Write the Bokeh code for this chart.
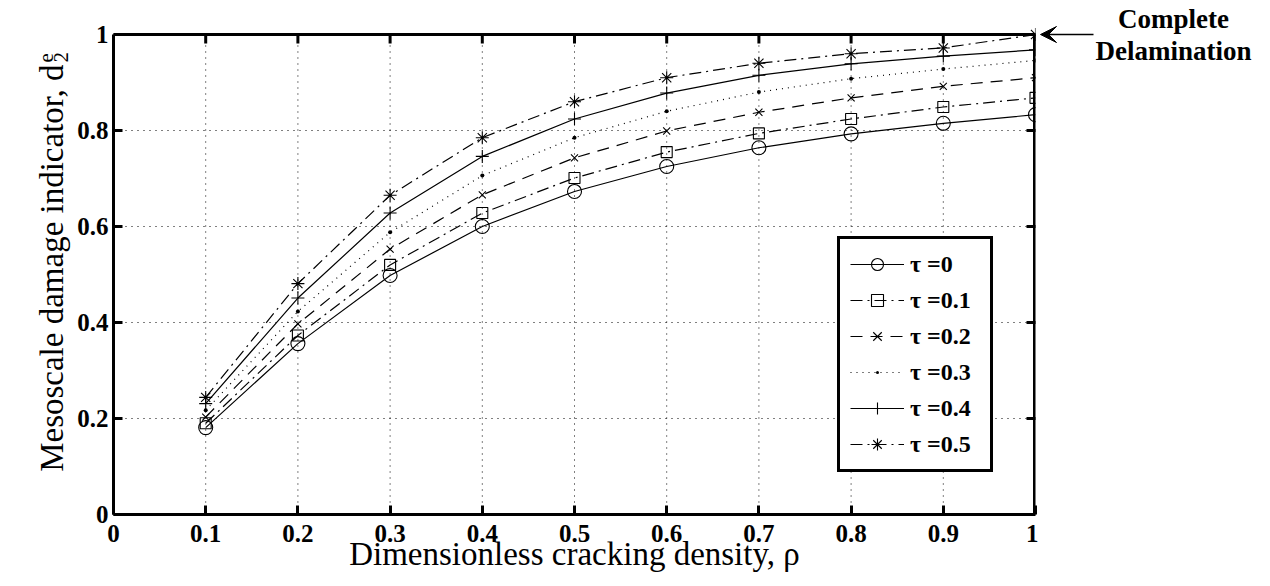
from bokeh.plotting import figure
from bokeh.layouts import row
from bokeh.models import (Range1d, FixedTicker, Legend, LegendItem,
                          Label, Arrow, VeeHead)
from bokeh.embed import file_html
from bokeh.resources import INLINE
import math

rho = [0.1, 0.2, 0.3, 0.4, 0.5, 0.6, 0.7, 0.8, 0.9, 1.0]
tau_labels = ["τ =0", "τ =0.1", "τ =0.2", "τ =0.3", "τ =0.4", "τ =0.5"]
d_tau0 = [0.181, 0.356, 0.498, 0.600, 0.673, 0.725, 0.764, 0.793, 0.815, 0.833]
d_tau1 = [0.190, 0.373, 0.520, 0.628, 0.701, 0.755, 0.794, 0.824, 0.849, 0.868]
d_tau2 = [0.203, 0.397, 0.553, 0.666, 0.743, 0.799, 0.838, 0.868, 0.892, 0.910]
d_tau3 = [0.217, 0.423, 0.588, 0.706, 0.785, 0.840, 0.880, 0.908, 0.928, 0.946]
d_tau4 = [0.231, 0.451, 0.628, 0.746, 0.824, 0.878, 0.915, 0.939, 0.955, 0.968]
d_tau5 = [0.244, 0.481, 0.665, 0.785, 0.860, 0.910, 0.940, 0.960, 0.972, 1.000]
x_ticks = [0, 0.1, 0.2, 0.3, 0.4, 0.5, 0.6, 0.7, 0.8, 0.9, 1.0]
x_tick_labels = ["0", "0.1", "0.2", "0.3", "0.4", "0.5", "0.6", "0.7", "0.8", "0.9", "1"]
y_ticks = [0, 0.2, 0.4, 0.6, 0.8, 1.0]
y_tick_labels = ["0", "0.2", "0.4", "0.6", "0.8", "1"]
x_title = "Dimensionless cracking density, ρ"
y_title = "Mesoscale damage indicator, d"
y_title_sup = "e"
y_title_sub = "2"
note_lines = ["Complete", "Delamination"]

SERIF = "Liberation Serif"
W0 = 74          # left strip holding the y title
H = 578          # common canvas height
BOX_TOP = 34     # pixel row of y = 1
BOX_BOTTOM = 514 # pixel row of y = 0
PX = 1.0 / (BOX_BOTTOM - BOX_TOP)   # one pixel in y data units

def hide_title(f):
    if f.title is not None:
        f.title.text = ""
        f.title.visible = False
        f.title.standoff = 0

# ---------------- main plot (frame reaches the canvas top, box is 0..1) ----------------
W1 = (113 - W0) + 922 + 3
y_lo, y_hi = y_ticks[0], y_ticks[-1]
x_lo, x_hi = x_ticks[0], x_ticks[-1]
p = figure(width=W1, height=H, output_backend="svg", toolbar_location=None,
           x_range=Range1d(x_lo, x_hi),
           y_range=Range1d(y_lo, y_hi + BOX_TOP * PX), align="start",
           min_border_left=113 - W0, min_border_right=3, min_border_top=0,
           min_border_bottom=H - BOX_BOTTOM)
hide_title(p)
p.outline_line_color = None
p.background_fill_color = "white"

def style_axis(ax, ticks, labels):
    ax.ticker = FixedTicker(ticks=ticks)
    ax.major_label_overrides = {t: l for t, l in zip(ticks, labels)}
    ax.axis_line_width = 3
    ax.axis_line_color = "black"
    ax.major_tick_line_width = 3
    ax.major_tick_in = 9
    ax.major_tick_out = 0
    ax.minor_tick_line_color = None
    ax.major_label_text_font = SERIF
    ax.major_label_text_font_style = "bold"
    ax.major_label_text_font_size = "25px"
    ax.major_label_text_color = "black"

style_axis(p.xaxis[0], x_ticks, x_tick_labels)
style_axis(p.yaxis[0], y_ticks, y_tick_labels)
p.yaxis[0].bounds = (y_lo, y_hi)
p.xaxis[0].major_label_standoff = 10
p.yaxis[0].major_label_standoff = 5
p.xaxis[0].axis_label = x_title
p.xaxis[0].axis_label_text_font = SERIF
p.xaxis[0].axis_label_text_font_style = "normal"
p.xaxis[0].axis_label_text_font_size = "33px"
p.xaxis[0].axis_label_text_color = "black"
p.xaxis[0].axis_label_standoff = -9

# grid: horizontal lines from the grid, vertical ones limited to the box
p.xgrid.visible = False
p.ygrid.ticker = FixedTicker(ticks=y_ticks)
p.ygrid.grid_line_color = "black"
p.ygrid.grid_line_dash = "1 5"
p.ygrid.grid_line_width = 1
p.ygrid.grid_line_alpha = 1.0
inner_x = x_ticks[1:-1]
p.segment(x0=inner_x, y0=[y_lo] * len(inner_x), x1=inner_x, y1=[y_hi] * len(inner_x),
          line_color="black", line_dash="1 5", line_width=1)

# top and right edges of the box with inward ticks
p.line([x_lo, x_hi], [y_hi, y_hi], line_color="black", line_width=3)
p.line([x_hi, x_hi], [y_lo, y_hi], line_color="black", line_width=5)
p.segment(x0=x_ticks, y0=[y_hi] * len(x_ticks), x1=x_ticks, y1=[y_hi - 9 * PX] * len(x_ticks),
          line_color="black", line_width=3)
p.scatter([x_hi] * len(y_ticks), y_ticks, marker="dash",
          size=18, line_color="black", line_width=3)

series = [d_tau0, d_tau1, d_tau2, d_tau3, d_tau4, d_tau5]
dashes = ["solid", "12 5 2 5", "12 8", "1 5", "solid", "12 5 2 5"]
markers = ["circle", "square", "x", "dot", "cross", "asterisk"]
sizes = [14, 11, 10, 16, 13, 13]
fills = [None, None, None, "black", None, None]

items = []
for vals, dash, mk, sz, fc, lab in zip(series, dashes, markers, sizes, fills, tau_labels):
    ln = p.line(rho, vals, line_color="black", line_width=1.2, line_dash=dash)
    sc = p.scatter(rho, vals, marker=mk, size=sz, line_color="black", fill_color=fc, line_width=1.1)
    items.append(LegendItem(label=lab, renderers=[ln, sc]))

legend = Legend(items=items, location=(724, 42))
legend.border_line_color = "black"
legend.border_line_width = 3
legend.border_line_alpha = 1.0
legend.background_fill_color = "white"
legend.background_fill_alpha = 1.0
legend.label_text_font = SERIF
legend.label_text_font_style = "bold"
legend.label_text_font_size = "24px"
legend.label_text_color = "black"
legend.glyph_width = 54
legend.glyph_height = 30
legend.label_height = 30
legend.label_width = 70
legend.label_standoff = 6
legend.padding = 10
legend.spacing = 6
legend.margin = 0
p.add_layout(legend, "center")

# ---------------- helper strips (pixel coordinates, y downwards) ----------------
# their frames are aligned with the main frame (canvas rows 0..514)
def blank(width, height, x0, x1):
    f = figure(width=width, height=height, output_backend="svg", toolbar_location=None,
               x_range=Range1d(x0, x1), y_range=Range1d(BOX_BOTTOM, 0),
               align="start", min_border=0, min_border_left=0, min_border_right=0,
               min_border_top=0, min_border_bottom=H - BOX_BOTTOM)
    hide_title(f)
    f.xaxis.visible = False
    f.yaxis.visible = False
    f.xgrid.visible = False
    f.ygrid.visible = False
    f.outline_line_color = None
    return f

# left strip: y title, ending just below the top with a stacked super/subscript
p0 = blank(W0, H, 0, W0)
p0.add_layout(Label(x=51, y=64, text=y_title, angle=math.pi / 2, text_font=SERIF,
                    text_font_size="33px", text_align="right", text_baseline="alphabetic",
                    text_color="black"))
p0.add_layout(Label(x=45, y=62, text=y_title_sup, angle=math.pi / 2, text_font=SERIF,
                    text_font_size="21px", text_align="left", text_baseline="alphabetic",
                    text_color="black"))
p0.add_layout(Label(x=60, y=62, text=y_title_sub, angle=math.pi / 2, text_font=SERIF,
                    text_font_size="21px", text_align="left", text_baseline="alphabetic",
                    text_color="black"))

# right strip: note with arrow pointing at the top-right corner
X2 = W0 + W1
W2 = 1254 - X2
p2 = blank(W2, H, X2, X2 + W2)
p2.add_layout(Label(x=1173, y=18, text=note_lines[0], text_font=SERIF, text_font_style="bold",
                    text_font_size="27px", text_align="center", text_baseline="middle",
                    text_color="black"))
p2.add_layout(Label(x=1173, y=50, text=note_lines[1], text_font=SERIF, text_font_style="bold",
                    text_font_size="27px", text_align="center", text_baseline="middle",
                    text_color="black"))
p2.add_layout(Arrow(x_start=1093, y_start=BOX_TOP, x_end=X2 + 2, y_end=BOX_TOP, line_width=1.5,
                    line_color="black",
                    end=VeeHead(size=16, fill_color="black", line_color="black")))

layout = row(p0, p, p2, spacing=0, align="start")
open("out.html", "w").write(file_html(layout, INLINE))
